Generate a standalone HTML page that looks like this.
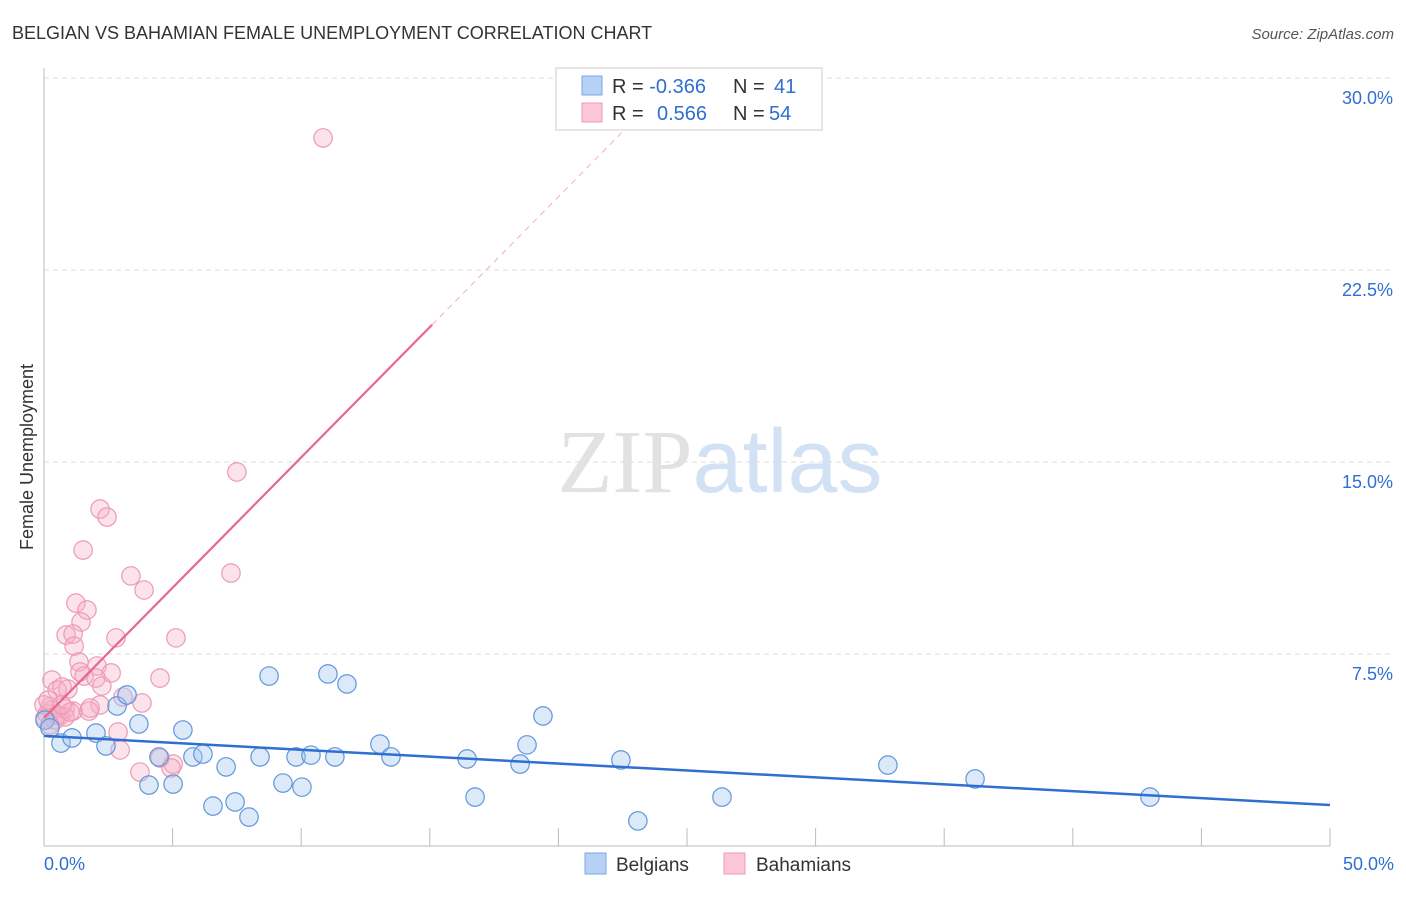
<!DOCTYPE html>
<html><head><meta charset="utf-8"><style>
body{margin:0;background:#fff;font-family:"Liberation Sans",sans-serif}
svg text{font-family:"Liberation Sans",sans-serif}
</style></head><body>
<svg id="c" width="1406" height="892" xmlns="http://www.w3.org/2000/svg">
<text x="12" y="39" font-size="18" fill="#333">BELGIAN VS BAHAMIAN FEMALE UNEMPLOYMENT CORRELATION CHART</text>
<text x="1394" y="39" font-size="15" fill="#555" text-anchor="end" font-style="italic">Source: ZipAtlas.com</text>
<text transform="translate(33,457) rotate(-90)" font-size="18" fill="#333" text-anchor="middle">Female Unemployment</text>
<text x="720" y="492" font-size="90" text-anchor="middle"><tspan fill="#e2e2e2" font-family="Liberation Serif">ZIP</tspan><tspan fill="#d3e1f5">atlas</tspan></text>
<g id="grid"></g><g id="marks"></g>
<g>
<rect x="556" y="68" width="266" height="62" fill="#fff" stroke="#ccc"/>
<rect x="582" y="76" width="20" height="19" fill="#b7d1f5" stroke="#7aa6e6"/>
<rect x="582" y="103" width="20" height="19" fill="#fbc6d6" stroke="#ee9ab5"/>
<text x="612" y="93" font-size="20" fill="#333">R = <tspan fill="#2f6fd0">-0.366</tspan><tspan x="733" fill="#333">N = </tspan><tspan x="774" fill="#2f6fd0">41</tspan></text>
<text x="612" y="120" font-size="20" fill="#333">R = <tspan x="657" fill="#2f6fd0">0.566</tspan><tspan x="733" fill="#333">N = </tspan><tspan x="769" fill="#2f6fd0">54</tspan></text>
</g>
<g>
<rect x="585" y="853" width="21" height="21" fill="#b7d1f5" stroke="#7aa6e6"/>
<text x="616" y="871" font-size="19" fill="#333">Belgians</text>
<rect x="724" y="853" width="21" height="21" fill="#fbc6d6" stroke="#ee9ab5"/>
<text x="756" y="871" font-size="19" fill="#333">Bahamians</text>
</g>
</svg>
<script>
const yTicks=[7.5,15.0,22.5,30.0];
const blueX=[0.66,1.09,2.02,2.41,2.84,3.23,3.69,4.08,4.47,5.02,5.40,5.79,6.18,6.57,7.08,7.43,7.97,8.40,8.75,9.29,9.80,10.03,10.38,11.04,11.31,11.78,13.06,13.49,16.45,16.76,18.51,18.78,19.40,22.43,23.09,26.36,32.81,36.20,43.00,0.04,0.23];
const blueY=[4.02,4.22,4.41,3.91,5.47,5.90,4.77,2.38,3.48,2.42,4.53,3.48,3.59,1.56,3.09,1.72,1.13,3.48,6.64,2.46,3.48,2.30,3.55,6.72,3.48,6.33,3.98,3.48,3.40,1.91,3.20,3.95,5.08,3.36,0.98,1.91,3.16,2.62,1.91,4.92,4.61];
const pinkX=[10.85,7.50,2.18,2.45,1.52,3.38,3.89,7.27,1.24,1.67,1.44,0.86,1.13,1.17,2.80,5.13,1.36,2.06,2.61,4.51,1.40,1.56,2.02,0.31,0.51,0.93,2.25,0.70,3.07,3.81,2.18,1.75,1.13,0.62,0.23,0.12,0.43,0.82,2.96,3.73,4.51,5.02,4.94,2.88,0.82,0.31,0.51,0.04,0.0,0.16,1.01,0.70,1.79,0.23];
const pinkY=[27.66,14.61,13.16,12.85,11.56,10.55,10.00,10.66,9.49,9.22,8.75,8.24,8.28,7.81,8.13,8.13,7.19,7.03,6.76,6.56,6.80,6.64,6.56,6.48,6.09,6.13,6.25,6.21,5.82,5.59,5.51,5.27,5.27,5.08,5.43,5.16,4.92,5.35,3.75,2.89,3.44,3.20,3.05,4.45,5.04,5.31,5.12,5.00,5.51,5.70,5.23,5.51,5.39,4.73];
const blueTrend=[4.30,1.60];
const pinkTrend=[5.0,1.018];
const pinkSolidEnd=15.09;
const X=v=>44+v/50*1286, Y=v=>846-v/7.5*192;
const NS="http://www.w3.org/2000/svg";
function mk(t,a,p){const e=document.createElementNS(NS,t);for(const k in a)e.setAttribute(k,a[k]);p.appendChild(e);return e;}
const g=document.getElementById('grid'),m=document.getElementById('marks');
for(const t of yTicks){
 const l=mk('line',{x1:44,x2:1394,y1:Y(t),y2:Y(t),stroke:'#ddd','stroke-dasharray':'5,4'},g);
 
 
 const tx=mk('text',{x:1393,y:Y(t)+26,'font-size':18,fill:'#2f6fd0','text-anchor':'end'},g);
 tx.textContent=t.toFixed(1)+'%';
 
 
}
const ax=mk('line',{x1:44,x2:1330,y1:846,y2:846,stroke:'#bbb'},g);


const ay=mk('line',{x1:44,x2:44,y1:68,y2:846,stroke:'#bbb'},g);


for(let v=5;v<=50;v+=5){const tk=mk('line',{x1:X(v),x2:X(v),y1:828,y2:846,stroke:'#bbb'},g);
 
 }
const xl=mk('text',{x:44,y:870,'font-size':18,fill:'#2f6fd0'},g);xl.textContent='0.0%';


const xr=mk('text',{x:1394,y:870,'font-size':18,fill:'#2f6fd0','text-anchor':'end'},g);xr.textContent='50.0%';


pinkX.forEach((x,i)=>{const c=mk('circle',{cx:X(x),cy:Y(pinkY[i]),r:9.2,fill:'rgba(246,175,199,0.35)',stroke:'#ec9ab5','stroke-width':1.2},m);
 
 });
blueX.forEach((x,i)=>{const c=mk('circle',{cx:X(x),cy:Y(blueY[i]),r:9.2,fill:'rgba(165,199,240,0.4)',stroke:'#6196dc','stroke-width':1.2},m);
 
 });
const bt=mk('line',{x1:X(0),y1:Y(blueTrend[0]),x2:X(50),y2:Y(blueTrend[1]),stroke:'#2f6fd0','stroke-width':2.5},m);


const pt=mk('line',{x1:X(0),y1:Y(pinkTrend[0]),x2:X(pinkSolidEnd),y2:Y(pinkTrend[0]+pinkTrend[1]*pinkSolidEnd),stroke:'#e8668f','stroke-width':2.2},m);


const xe=(30-pinkTrend[0])/pinkTrend[1];
const pd=mk('line',{x1:X(pinkSolidEnd),y1:Y(pinkTrend[0]+pinkTrend[1]*pinkSolidEnd),x2:X(xe),y2:Y(30),stroke:'#f0b0c4','stroke-width':1,'stroke-dasharray':'6,5'},m);


</script>
</body></html>
